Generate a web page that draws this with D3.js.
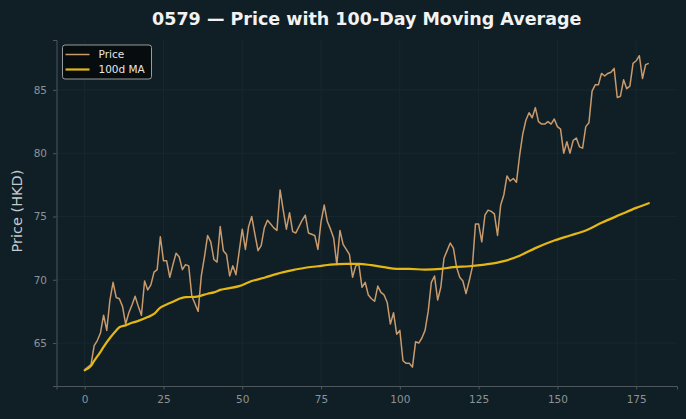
<!DOCTYPE html>
<html>
<head>
<meta charset="utf-8">
<script src="https://cdn.jsdelivr.net/npm/d3@7"></script>
<style>
  html, body { margin: 0; padding: 0; background: #101f26; }
  svg { display: block; font-family: "DejaVu Sans", sans-serif; }
</style>
</head>
<body>
<div id="chart"></div>
<script>
// Closing price, one value per trading day (index 0..179)
const price = [
  62.9, 63.1, 63.3, 64.8, 65.2, 65.8, 67.2, 66.0, 68.4, 69.8,
  68.6, 68.5, 67.9, 66.5, 67.4, 68.0, 68.7, 67.9, 67.2, 69.9,
  69.2, 69.6, 70.6, 70.8, 73.4, 71.5, 71.5, 70.2, 71.2, 72.1,
  71.8, 70.8, 71.2, 71.1, 68.7, 68.1, 67.5, 70.3, 71.8, 73.5,
  73.0, 71.6, 71.4, 74.2, 72.3, 72.0, 70.3, 71.1, 70.4, 72.2,
  74.0, 72.4, 74.2, 75.0, 73.6, 72.3, 72.7, 74.1, 74.7, 74.4,
  74.1, 73.9, 77.1, 75.5, 74.0, 75.3, 73.8, 73.7, 74.2, 74.7,
  75.1, 73.7, 73.6, 73.5, 72.4, 74.6, 75.9, 74.6, 74.0, 73.3,
  71.2, 73.9, 72.8, 72.4, 72.0, 70.2, 71.1, 71.2, 69.4, 69.8,
  68.8, 68.5, 68.3, 69.5, 69.0, 68.8, 68.2, 66.5, 67.4, 65.7,
  66.0, 63.6, 63.4, 63.4, 63.1, 65.1, 65.0, 65.4, 66.0, 67.5,
  69.8, 70.3, 68.4, 69.4, 71.7, 72.3, 72.9, 72.5, 71.0, 70.2,
  69.9, 68.9, 69.9, 71.0, 74.4, 74.4, 73.0, 75.1, 75.5, 75.4,
  75.2, 73.5, 75.9, 76.7, 78.2, 77.8, 78.0, 77.7, 79.8, 81.5,
  82.6, 83.2, 82.8, 83.6, 82.5, 82.3, 82.3, 82.5, 82.3, 82.7,
  82.1, 81.9, 80.0, 80.9, 80.0, 81.0, 81.2, 80.5, 80.4, 82.1,
  82.4, 84.9, 85.4, 85.4, 86.3, 86.1, 86.3, 86.4, 86.7, 84.4,
  84.5, 85.8, 85.1, 85.3, 87.1, 87.3, 87.7, 85.9, 87.0, 87.1
];

// 100-day moving average at these day indices
const maDay = [0, 2, 3, 5, 6, 8, 10, 11, 13, 15, 17, 20, 22, 24, 26, 28, 30, 32, 35, 37,
  39, 41, 43, 45, 49, 53, 57, 61, 66, 70, 74, 78, 83, 87, 91, 95, 99, 103, 108, 113,
  117, 122, 127, 133, 138, 143, 149, 154, 159, 164, 170, 175, 179];
const maValue = [62.85, 63.2, 63.6, 64.3, 64.7, 65.4, 66.0, 66.25, 66.4, 66.6, 66.75, 67.05, 67.3, 67.8, 68.05, 68.26, 68.5, 68.63, 68.65, 68.75,
  68.9, 69.0, 69.2, 69.3, 69.5, 69.9, 70.16, 70.47, 70.76, 70.95, 71.07, 71.2, 71.26, 71.26, 71.15, 71.0, 70.86, 70.86, 70.8, 70.86,
  71.0, 71.07, 71.2, 71.47, 71.9, 72.5, 73.1, 73.5, 73.9, 74.5, 75.15, 75.68, 76.05];

const xTicks = [0, 25, 50, 75, 100, 125, 150, 175];
const yTicks = [65, 70, 75, 80, 85];

const W = 686, H = 419;
const margin = { top: 40, right: 9, bottom: 33, left: 56.5 };
const width = W - margin.left - margin.right,
      height = H - margin.top - margin.bottom;

const svg = d3.select("#chart").append("svg")
    .attr("width", W)
    .attr("height", H);

svg.append("rect").attr("width", W).attr("height", H).attr("fill", "#101f26");

const g = svg.append("g")
    .attr("transform", "translate(" + margin.left + "," + margin.top + ")");

// Scales with matplotlib-like 5% padding
const n = price.length;
const xPad = (n - 1) * 0.05;
const x = d3.scaleLinear()
    .domain([-xPad, n - 1 + xPad])
    .range([0, width]);

const yMin = d3.min([d3.min(price), d3.min(maValue)]);
const yMax = d3.max([d3.max(price), d3.max(maValue)]);
const yPad = (yMax - yMin) * 0.05;
const y = d3.scaleLinear()
    .domain([yMin - yPad, yMax + yPad])
    .range([height, 0]);

// Grid
g.append("g")
    .selectAll("line")
    .data(xTicks)
    .enter().append("line")
    .attr("x1", d => x(d)).attr("x2", d => x(d))
    .attr("y1", 0).attr("y2", height)
    .attr("stroke", "#182930").attr("stroke-width", 0.8);
g.append("g")
    .selectAll("line")
    .data(yTicks)
    .enter().append("line")
    .attr("x1", 0).attr("x2", width)
    .attr("y1", d => y(d)).attr("y2", d => y(d))
    .attr("stroke", "#182930").attr("stroke-width", 0.8);

// X axis
const xAxis = g.append("g")
    .attr("transform", "translate(0," + height + ")")
    .call(d3.axisBottom(x).tickValues(xTicks).tickSize(3.5).tickPadding(6));
// Y axis
const yAxis = g.append("g")
    .call(d3.axisLeft(y).tickValues(yTicks).tickSize(3.5).tickPadding(6));

[xAxis, yAxis].forEach(a => {
    a.select(".domain").attr("stroke", "#4d575c").attr("stroke-width", 1);
    a.selectAll(".tick line").attr("stroke", "#4d575c");
    a.selectAll(".tick text")
        .attr("fill", "#8a9498")
        .style("font-size", "10.5px")
        .style("font-family", "DejaVu Sans, sans-serif");
});

// Y label
g.append("text")
    .attr("transform", "rotate(-90)")
    .attr("x", -height / 2 + 2)
    .attr("y", -margin.left + 22)
    .attr("text-anchor", "middle")
    .attr("fill", "#c3cacd")
    .style("font-size", "14.5px")
    .text("Price (HKD)");

// Title
svg.append("text")
    .attr("x", margin.left + width / 2)
    .attr("y", 25)
    .attr("text-anchor", "middle")
    .attr("fill", "#f2f2f2")
    .style("font-size", "17.5px")
    .style("font-weight", "bold")
    .text("0579 \u2014 Price with 100-Day Moving Average");

// Price line
const priceLine = d3.line()
    .x((d, i) => x(i))
    .y(d => y(d));
g.append("path")
    .datum(price)
    .attr("fill", "none")
    .attr("stroke", "#c89a6c")
    .attr("stroke-width", 1.5)
    .attr("stroke-linejoin", "round")
    .attr("d", priceLine);

// Moving average line
const maLine = d3.line()
    .x((d, i) => x(maDay[i]))
    .y(d => y(d))
    .curve(d3.curveMonotoneX);
g.append("path")
    .datum(maValue)
    .attr("fill", "none")
    .attr("stroke", "#e4b714")
    .attr("stroke-width", 2.2)
    .attr("stroke-linecap", "round")
    .attr("d", maLine);

// Legend
const legend = svg.append("g").attr("transform", "translate(62.5,45)");
legend.append("rect")
    .attr("width", 89).attr("height", 34)
    .attr("rx", 2.5)
    .attr("fill", "#070c0f")
    .attr("stroke", "#a8acae")
    .attr("stroke-width", 0.9);
const items = [
    { name: "Price", color: "#c89a6c", w: 1.5 },
    { name: "100d MA", color: "#e4b714", w: 2.2 }
];
items.forEach((it, i) => {
    const yy = 9.5 + i * 15;
    legend.append("line")
        .attr("x1", 3).attr("x2", 27)
        .attr("y1", yy).attr("y2", yy)
        .attr("stroke", it.color).attr("stroke-width", it.w);
    legend.append("text")
        .attr("x", 36).attr("y", yy + 3.8)
        .attr("fill", "#e6e6e6")
        .style("font-size", "10.5px")
        .text(it.name);
});
</script>
</body>
</html>
